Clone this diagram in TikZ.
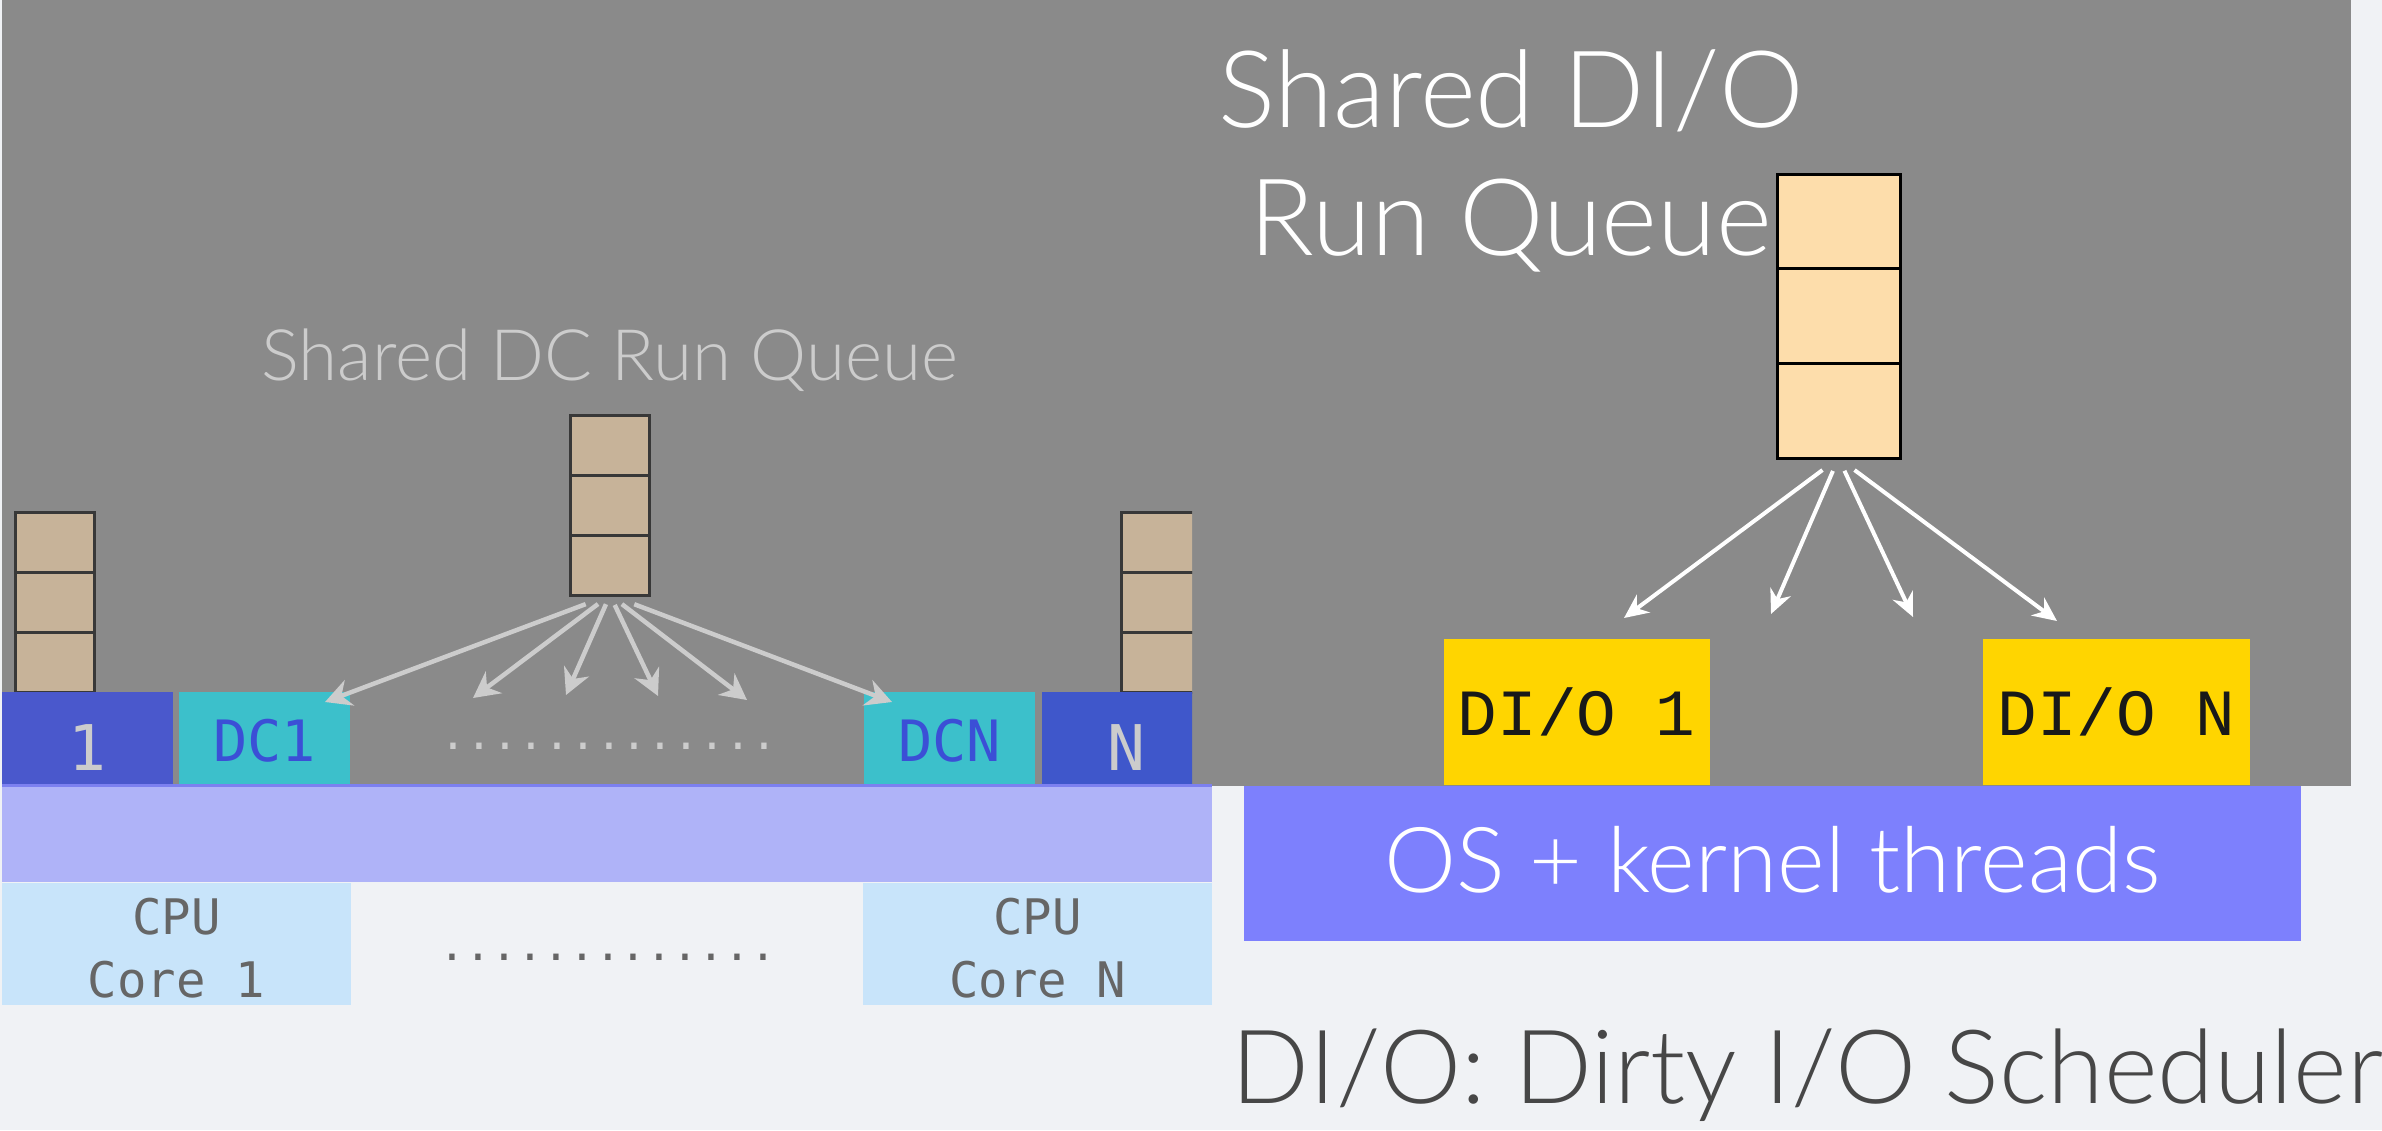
\documentclass[tikz,border=0pt]{standalone}
\usepackage{fontspec}
\setmainfont{Lato}[UprightFont=* Light]
\newfontfamily\monofont{DejaVu Sans Mono}
\newfontfamily\courfont{Liberation Mono}
\usetikzlibrary{arrows.meta,positioning}

\definecolor{slidegrey}{HTML}{8A8A8A}
\definecolor{pagebg}{HTML}{F0F2F5}
\definecolor{cellbrown}{HTML}{C7B399}
\definecolor{cellpeach}{HTML}{FDDDAB}
\definecolor{schedblue}{HTML}{4A58CC}
\definecolor{schedblueN}{HTML}{3F57CB}
\definecolor{dccyan}{HTML}{3CC0CB}
\definecolor{dctext}{HTML}{3B4FD6}
\definecolor{barlilac}{HTML}{AFB3F8}
\definecolor{barline}{HTML}{7C80F0}
\definecolor{corebg}{HTML}{C8E4FA}
\definecolor{coretext}{HTML}{666666}
\definecolor{dioyellow}{HTML}{FFD500}
\definecolor{osblue}{HTML}{7D80FD}
\definecolor{titlegrey}{HTML}{474747}
\definecolor{arrowgrey}{HTML}{CCCCCC}

\tikzset{
	dccell/.style={draw=black!78, line width=3pt, fill=cellbrown, minimum width=79pt, minimum height=60pt, inner sep=0pt, outer sep=0pt},
	diocell/.style={draw=black, line width=3pt, fill=cellpeach, minimum width=123pt, minimum height=94.7pt, inner sep=0pt, outer sep=0pt},
	schedbox/.style={fill=schedblue, minimum height=92pt, inner sep=0pt, text=arrowgrey, font=\monofont\fontsize{63}{63}\selectfont, text height=64pt, text depth=0pt},
	dcbox/.style={fill=dccyan, minimum width=171pt, minimum height=92pt, inner sep=0pt, text=dctext, font=\monofont\fontsize{57}{57}\selectfont, text height=46pt, text depth=0pt},
	corebox/.style={fill=corebg, minimum width=349pt, minimum height=122pt, inner sep=0pt, align=center, text=coretext, font=\monofont\fontsize{49}{63}\selectfont, text height=106pt, text depth=0pt},
	diobox/.style={fill=dioyellow, minimum width=266.5pt, minimum height=146pt, inner sep=0pt, text=black!90, font=\courfont\fontsize{66}{66}\selectfont, text height=46pt, text depth=0pt},
	dots/.style={anchor=base, inner sep=0pt, font=\monofont\fontsize{43}{43}\selectfont},
	dcarrow/.style={draw=arrowgrey, line width=4.5pt, -{Stealth[length=26pt, width=27pt]}},
	dioarrow/.style={draw=white, line width=4pt, -{Stealth[length=24pt, width=22pt]}}
}

\begin{document}
\begin{tikzpicture}[x=1pt, y=-1pt]
		%%%%% START %%%%%
		
		\useasboundingbox (0,0) rectangle (2382,1130);
		\fill[pagebg] (0,0) rectangle (2382,1130);
		\fill[slidegrey] (2,0) rectangle (2351,786);
		
		% shared DC run queue
		\node[anchor=base, inner sep=0pt, text=arrowgrey, font=\fontsize{71}{71}\selectfont] (dctitle) at (610,380) {Shared DC Run Queue};
		\node[dccell] (dcq1) at (610,445) {};
		\node[dccell, below=0pt of dcq1] (dcq2) {};
		\node[dccell, below=0pt of dcq2] (dcq3) {};
		
		% run queues of scheduler 1 and N
		\node[dccell] (lq1) at (55,542) {};
		\node[dccell, below=0pt of lq1] (lq2) {};
		\node[dccell, below=0pt of lq2] (lq3) {};
		
		\node[schedbox, minimum width=171pt] (sched1) at (87.5,738) {1};
		\node[dcbox] (dc1) at (264.5,738) {DC1};
		\node[dcbox] (dcN) at (949.5,738) {DCN};
		\node[dots, text=arrowgrey] (dcdots) at (609,749) {.............};
		
		\begin{scope}
			\clip (0,0) rectangle (1192,1130);
			\node[dccell] (rq1) at (1160.5,542) {};
			\node[dccell, below=0pt of rq1] (rq2) {};
			\node[dccell, below=0pt of rq2] (rq3) {};
			\node[schedbox, fill=schedblueN, minimum width=170.5pt] (schedN) at (1126.75,738) {N};
		\end{scope}
		
		\coordinate (dctip1) at (325,702);
		\coordinate (dctip2) at (473,698);
		\coordinate (dctip3) at (566,695);
		\coordinate (dctip4) at (658,696);
		\coordinate (dctip5) at (747,700);
		\coordinate (dctip6) at (892,702);
		\foreach \tip/\gap in {dctip1/26, dctip2/15, dctip3/10, dctip4/11, dctip5/15, dctip6/26}
			\draw[dcarrow, shorten <=\gap pt] (dcq3.south) -- (\tip);
		
		% cores
		\fill[barlilac] (2,784) rectangle (1212,882);
		\draw[barline, line width=3pt] (2,785.5) -- (1212,785.5);
		\node[corebox] (core1) at (176.5,944) {CPU\\Core 1};
		\node[corebox] (coreN) at (1037.5,944) {CPU\\Core N};
		\node[dots, text=coretext] (coredots) at (608,960) {.............};
		
		% shared DI/O run queue
		\node[anchor=base, inner sep=0pt, align=center, text=white, font=\fontsize{107}{128}\selectfont] (diotitle) at (1511,255) {Shared DI/O\\Run Queue};
		\node[diocell] (dioq1) at (1838.5,221.35) {};
		\node[diocell, below=0pt of dioq1] (dioq2) {};
		\node[diocell, below=0pt of dioq2] (dioq3) {};
		
		\node[diobox] (dio1) at (1576.75,712) {DI/O 1};
		\node[diobox] (dioN) at (2116.5,712) {DI/O N};
		
		\coordinate (diotip1) at (1624,618);
		\coordinate (diotip2) at (1771,614);
		\coordinate (diotip3) at (1913,617);
		\coordinate (diotip4) at (2057,621);
		\foreach \tip/\gap in {diotip1/20, diotip2/14, diotip3/14, diotip4/20}
			\draw[dioarrow, shorten <=\gap pt] (dioq3.south) -- (\tip);
		
		\node[fill=osblue, minimum width=1057pt, minimum height=155pt, inner sep=0pt, text=white, font=\fontsize{91}{91}\selectfont, text height=58pt, text depth=0pt] (os) at (1772.5,863) {OS + kernel threads};
		
		\node[anchor=base, inner sep=0pt, text=titlegrey, font=\fontsize{102.6}{102.6}\selectfont] (diolegend) at (1807,1103) {DI/O: Dirty I/O Scheduler};
		
		%%%%% END %%%%%
\end{tikzpicture}
\end{document}
